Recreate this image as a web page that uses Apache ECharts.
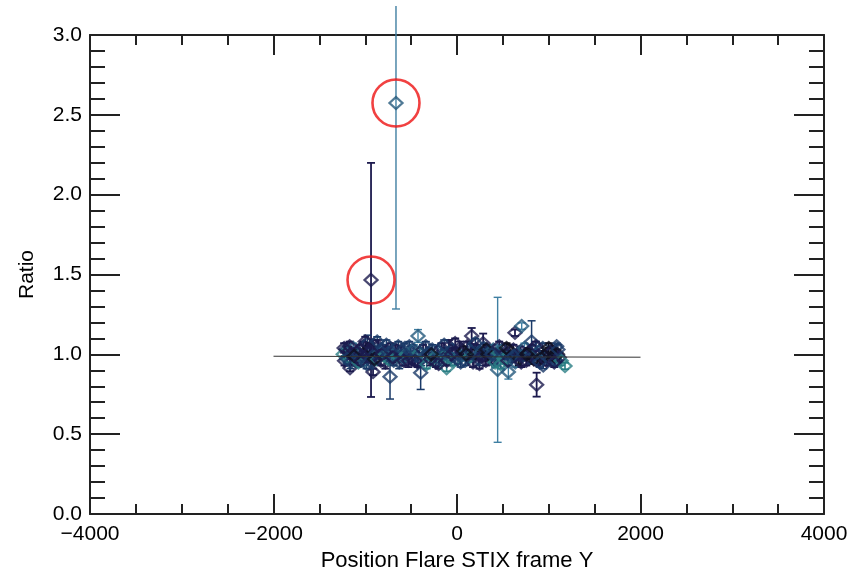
<!DOCTYPE html>
<html>
<head>
<meta charset="utf-8">
<script src="https://cdn.jsdelivr.net/npm/echarts@6/dist/echarts.min.js"></script>
<style>
  html, body { margin: 0; padding: 0; background: #ffffff; }
  #chart { width: 853px; height: 572px; }
</style>
</head>
<body>
<div id="chart"></div>
<script>
// Flare position (STIX frame Y) against measured ratio, with 1-sigma errors.
// flareSet selects the colour of each measurement.
const posY = [
  -937, -665, 443,
  -730, -396, -425, 160, 285, 632, 705, 813, 868, 560, -1166, -915, -113, 1177, 1086, 940,
  -1240, -1225, -1210, -1195, -1180, -1160, -1145, -1130, -1110, -1090, -1075, -1060, -1040, -1020,
  -1005, -990, -975, -960, -950, -930, -910, -895, -880, -860, -845, -830, -810, -795, -780, -760,
  -745, -725, -710, -690, -670, -650, -630, -610, -590, -570, -550, -530, -510, -490, -470, -450,
  -430, -410, -390, -370, -350, -330, -310, -290, -270, -250, -230, -210, -190, -170, -150, -130,
  -110, -90, -70, -50, -30, -10, 10, 30, 50, 70, 90, 110, 130, 150, 175, 195, 215, 235, 255, 275,
  295, 315, 335, 355, 375, 395, 415, 435, 455, 475, 495, 515, 535, 555, 575, 595, 615, 635, 655,
  675, 695, 715, 735, 755, 775, 795, 815, 835, 855, 875, 895, 915, 935, 955, 975, 995, 1015, 1035,
  1055, 1075, 1095, 1115, 1135,
  -1230, -1200, -1170, -1120, -1050, -1000, -985, -940, -900, -870, -820, -770, -700, -640, -580,
  -520, -460, -340, -280, -200, -140, -60, -20, 40, 100, 200, 245, 320, 380, 460, 540, 620, 700,
  760, 860, 900, 1000, 1060, 1100
];
const ratio = [
  1.466, 2.574, 0.903,
  0.86, 0.885, 1.115, 1.115, 1.07, 1.135, 1.177, 1.08, 0.81, 0.89, 0.914, 0.89, 0.914, 0.927, 1.05, 0.93,
  1.00, 0.96, 1.03, 0.98, 1.02, 0.95, 1.00, 1.04, 0.97, 1.01, 0.95, 1.03, 0.99, 1.05,
  0.96, 1.02, 1.07, 0.98, 1.04, 0.95, 1.06, 1.00, 0.97, 1.05, 1.01, 0.96, 1.03, 0.99, 0.95, 1.02,
  0.97, 1.04, 1.00, 0.96, 1.03, 0.99, 0.95, 1.02, 0.98, 1.04, 1.00, 0.96, 1.02, 0.97, 1.03, 0.99,
  0.95, 1.01, 0.97, 1.03, 0.99, 0.94, 1.01, 0.97, 1.03, 0.98, 0.95, 1.02, 0.97, 1.04, 0.99, 1.01,
  0.96, 1.05, 0.98, 1.03, 0.96, 1.01, 0.97, 1.04, 0.99, 1.02, 0.96, 1.05, 0.98, 1.02, 0.95, 1.00,
  1.03, 0.97, 1.01, 0.99, 1.04, 0.96, 1.00, 1.02, 0.97, 1.03, 0.95, 0.98, 1.01, 0.94, 1.03, 0.97,
  1.00, 0.96, 1.02, 0.98, 1.03, 0.95, 1.00, 0.97, 1.02, 0.99, 1.04, 0.96, 1.01, 0.98, 1.03, 0.97,
  1.00, 0.96, 1.02, 0.98, 1.04, 0.99, 0.96, 1.01, 0.97, 1.02, 0.99, 0.96, 1.00, 0.98, 0.96,
  1.04, 0.97, 1.05, 0.99, 0.96, 1.08, 0.94, 1.02, 0.97, 1.08, 1.00, 1.06, 0.98, 1.05, 0.96,
  1.05, 0.96, 1.05, 1.00, 0.94, 1.06, 1.00, 1.07, 0.95, 1.00, 1.07, 0.94, 1.03, 1.00, 1.05, 1.04, 0.99, 0.95,
  1.00, 1.05, 0.95, 1.04, 0.95, 1.03
];
const ratioErr = [
  0.733, 1.29, 0.454,
  0.14, 0.105, 0.04, 0.05, 0.06, 0.02, 0.02, 0.13, 0.075, 0.045, 0.02, 0.02, 0.02, 0.02, 0.02, 0.02,
  0.03, 0.03, 0.04, 0.03, 0.03, 0.04, 0.03, 0.03, 0.04, 0.03, 0.03, 0.03, 0.04, 0.03,
  0.03, 0.03, 0.05, 0.03, 0.03, 0.04, 0.03, 0.03, 0.03, 0.04, 0.03, 0.03, 0.03, 0.03, 0.04, 0.03,
  0.03, 0.03, 0.04, 0.03, 0.03, 0.03, 0.04, 0.03, 0.03, 0.03, 0.03, 0.04, 0.03, 0.03, 0.03, 0.03,
  0.03, 0.03, 0.04, 0.03, 0.03, 0.03, 0.03, 0.04, 0.03, 0.03, 0.03, 0.03, 0.04, 0.03, 0.03, 0.03,
  0.03, 0.04, 0.03, 0.03, 0.03, 0.03, 0.03, 0.04, 0.03, 0.03, 0.03, 0.03, 0.03, 0.04, 0.03, 0.03,
  0.03, 0.04, 0.03, 0.03, 0.03, 0.03, 0.04, 0.03, 0.03, 0.03, 0.03, 0.05, 0.03, 0.03, 0.03, 0.03,
  0.03, 0.03, 0.04, 0.03, 0.03, 0.03, 0.03, 0.04, 0.03, 0.03, 0.03, 0.03, 0.03, 0.04, 0.03, 0.03,
  0.03, 0.03, 0.03, 0.04, 0.03, 0.03, 0.03, 0.03, 0.04, 0.03, 0.03, 0.03, 0.03, 0.03, 0.03,
  0.03, 0.03, 0.03, 0.04, 0.03, 0.03, 0.03, 0.04, 0.03, 0.03, 0.03, 0.03, 0.03, 0.03, 0.03,
  0.03, 0.03, 0.03, 0.03, 0.03, 0.03, 0.04, 0.03, 0.03, 0.03, 0.03, 0.03, 0.03, 0.03, 0.03, 0.03, 0.03, 0.03,
  0.03, 0.03, 0.03, 0.03, 0.03, 0.03
];
const flareSet = [
  0, 2, 2,
  1, 1, 2, 0, 0, 0, 2, 1, 0, 2, 0, 0, 3, 3, 1, 1,
  3, 0, 1, 3, 0, 1, 0, 2, 0, 1, 3, 0, 1, 0,
  2, 0, 1, 0, 4, 1, 0, 1, 3, 0, 2, 0, 1, 3, 0, 1,
  3, 0, 2, 1, 0, 3, 1, 0, 2, 1, 3, 0, 1, 0, 2, 1,
  0, 3, 1, 0, 2, 3, 1, 0, 1, 3, 0, 2, 1, 0, 3, 1,
  0, 0, 2, 1, 3, 0, 1, 0, 2, 4, 1, 0, 3, 1, 0, 4,
  0, 1, 2, 0, 1, 0, 4, 1, 0, 2, 3, 1, 3, 3, 2, 3,
  1, 0, 4, 1, 0, 2, 1, 4, 0, 1, 2, 0, 4, 1, 0, 4,
  1, 0, 2, 4, 1, 4, 0, 4, 1, 0, 4, 1, 4, 0, 3,
  0, 1, 0, 4, 0, 0, 1, 0, 4, 1, 0, 1, 0, 1, 0,
  1, 0, 1, 4, 0, 1, 0, 0, 1, 4, 1, 0, 4, 1, 0, 4, 1, 0,
  4, 0, 1, 4, 0, 1
];
// measurements singled out with a red ring
const flaggedIdx = [0, 1];
// straight-line trend through the whole sample
const fitX = [-2000, 2000];
const fitRatio = [0.988, 0.982];

const xTickLabels = ['\u22124000', '\u22122000', '0', '2000', '4000'];
const yTickLabels = ['0.0', '0.5', '1.0', '1.5', '2.0', '2.5', '3.0'];

const palette = ['#1c1a4e', '#1a3a68', '#24597c', '#2a7e84', '#0f0f20'];
const barWidth = [1.8, 1.5, 1.4, 1.6, 1.8];
const FONT = 'Liberation Sans, Arial, Helvetica, sans-serif';
const AXIS_COLOR = '#222222';

const chart = echarts.init(document.getElementById('chart'), null, { renderer: 'canvas' });

const points = posY.map((x, i) => [x, ratio[i], ratioErr[i], flareSet[i]]);

function axisBase(extra) {
  return Object.assign({
    type: 'value',
    axisLine: { show: true, onZero: false, lineStyle: { color: AXIS_COLOR, width: 2 } },
    splitLine: { show: false },
    minorSplitLine: { show: false }
  }, extra);
}

const xTick = { show: true, inside: true, length: 20, lineStyle: { color: AXIS_COLOR, width: 2 } };
const xMinor = { show: true, splitNumber: 4, length: 10, lineStyle: { color: AXIS_COLOR, width: 2 } };
const yTick = { show: true, inside: true, length: 30, lineStyle: { color: AXIS_COLOR, width: 2 } };
const yMinor = { show: true, splitNumber: 5, length: 15, lineStyle: { color: AXIS_COLOR, width: 2 } };

const option = {
  animation: false,
  backgroundColor: '#ffffff',
  grid: { left: 90, right: 29, top: 35, bottom: 58, containLabel: false, outerBoundsMode: 'none' },
  xAxis: [
    axisBase({
      position: 'bottom', min: -4000, max: 4000, interval: 2000,
      axisTick: xTick, minorTick: xMinor,
      axisLabel: {
        show: true, color: '#000', fontSize: 21, fontFamily: FONT, margin: 10,
        formatter: (v) => xTickLabels[Math.round((v + 4000) / 2000)]
      },
      name: 'Position Flare STIX frame Y', nameLocation: 'middle', nameGap: 29,
      nameTextStyle: { color: '#000', fontSize: 22, fontFamily: FONT }
    }),
    axisBase({
      position: 'top', min: -4000, max: 4000, interval: 2000,
      axisTick: xTick, minorTick: xMinor,
      axisLabel: { show: false }
    })
  ],
  yAxis: [
    axisBase({
      position: 'left', min: 0, max: 3, interval: 0.5,
      axisTick: yTick, minorTick: yMinor,
      axisLabel: {
        show: true, color: '#000', fontSize: 21, fontFamily: FONT, margin: 8,
        formatter: (v) => yTickLabels[Math.round(v / 0.5)]
      },
      name: 'Ratio', nameLocation: 'middle', nameGap: 52, nameRotate: 90,
      nameTextStyle: { color: '#000', fontSize: 21, fontFamily: FONT }
    }),
    axisBase({
      position: 'right', min: 0, max: 3, interval: 0.5,
      axisTick: yTick, minorTick: yMinor,
      axisLabel: { show: false }
    })
  ],
  series: [
    {
      // vertical error bars with short end caps
      type: 'custom',
      xAxisIndex: 0, yAxisIndex: 0,
      clip: false,
      data: points,
      encode: { x: 0, y: 1 },
      z: 2,
      renderItem: function (params, api) {
        const x = api.value(0), y = api.value(1), e = api.value(2), g = api.value(3);
        const hi = api.coord([x, y + e]);
        const lo = api.coord([x, y - e]);
        const cs = params.coordSys;
        const color = g === 2 ? '#3f7fa2' : palette[g];
        const lw = barWidth[g];
        const cap = 4;
        const topPix = Math.max(hi[1], 6);
        const children = [
          { type: 'line', shape: { x1: hi[0], y1: topPix, x2: lo[0], y2: lo[1] }, style: { stroke: color, lineWidth: lw } },
          { type: 'line', shape: { x1: lo[0] - cap, y1: lo[1], x2: lo[0] + cap, y2: lo[1] }, style: { stroke: color, lineWidth: lw } }
        ];
        if (hi[1] >= cs.y - 1) {
          children.push({ type: 'line', shape: { x1: hi[0] - cap, y1: hi[1], x2: hi[0] + cap, y2: hi[1] }, style: { stroke: color, lineWidth: lw } });
        }
        return { type: 'group', children: children };
      }
    },
    {
      type: 'scatter',
      xAxisIndex: 0, yAxisIndex: 0,
      symbol: 'diamond',
      symbolSize: [13, 12],
      z: 3,
      data: points.map((p) => ({
        value: p,
        itemStyle: { color: 'rgba(0,0,0,0)', borderColor: palette[p[3]], borderWidth: 2.3 }
      }))
    },
    {
      type: 'line',
      xAxisIndex: 0, yAxisIndex: 0,
      symbol: 'none',
      z: 4,
      lineStyle: { color: '#333333', width: 1 },
      data: fitX.map((x, i) => [x, fitRatio[i]])
    },
    {
      type: 'scatter',
      xAxisIndex: 0, yAxisIndex: 0,
      symbol: 'circle',
      symbolSize: 47,
      z: 5,
      itemStyle: { color: 'rgba(0,0,0,0)', borderColor: '#ee1111', borderWidth: 2.6 },
      data: flaggedIdx.map((i) => [posY[i], ratio[i]])
    }
  ]
};

chart.setOption(option);
</script>
</body>
</html>
